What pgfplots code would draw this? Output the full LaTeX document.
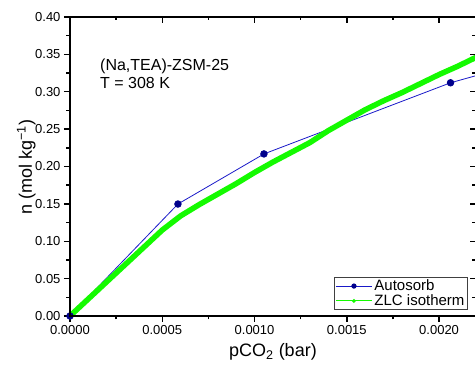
\documentclass[border=0pt]{standalone}
\usepackage{pgfplots}
\pgfplotsset{compat=1.18}
\usepackage{fontspec}
\setmainfont{Liberation Sans}
\definecolor{blueline}{RGB}{25,25,200}
\definecolor{bluemark}{RGB}{0,0,140}
\definecolor{zlcgreen}{RGB}{20,250,0}
\pgfplotsset{
  common/.style={
    at={(70pt,56pt)}, anchor=south west,
    scale only axis, width=406pt, height=299pt,
    xmin=0, xmax=0.0022, ymin=0, ymax=0.40,
    xtick={0,0.0005,0.001,0.0015,0.002},
    ytick={0,0.05,0.10,0.15,0.20,0.25,0.30,0.35,0.40},
    minor x tick num=1, minor y tick num=1,
    scaled x ticks=false, scaled y ticks=false,
    axis line style={line width=2pt, black},
    tick style={line width=1.4pt, black},
    major tick length=6pt, minor tick length=3.5pt,
    /pgf/number format/assume math mode=true,
  }
}
\begin{document}
\begin{tikzpicture}
\begin{axis}[common,
  tick align=outside, xtick pos=left, ytick pos=left,
  xticklabel style={/pgf/number format/.cd, fixed, fixed zerofill, precision=4},
  yticklabel style={/pgf/number format/.cd, fixed, fixed zerofill, precision=2},
  ticklabel style={font=\fontsize{13}{15}\selectfont},
  xlabel={pCO\textsubscript{2} (bar)},
  ylabel={n (mol kg\textsuperscript{−1})},
  label style={font=\fontsize{18}{20}\selectfont},
  xlabel style={at={(axis description cs:0.5,-0.137)}, anchor=base},
  ylabel style={at={(axis description cs:-0.0936,0.497)}, anchor=base},
  legend style={at={(axis description cs:0.980,0.020)}, anchor=south east,
    draw=black!75, line width=0.8pt, font=\fontsize{15}{17}\selectfont,
    inner xsep=1pt, inner ysep=0.5pt, row sep=-1.5pt},
  legend cell align=left,
  legend image code/.code={\draw[mark repeat=2,mark phase=2] plot coordinates {(0pt,0pt) (18pt,0pt) (36pt,0pt)};},
]
\addplot[blueline, line width=0.8pt, mark=*, mark size=3.3pt,
  mark options={fill=bluemark, draw=bluemark}, forget plot] coordinates {
  (0,0) (0.000585,0.1498) (0.001051,0.2168) (0.002062,0.3120) (0.0026,0.349)};
\addplot[zlcgreen, line width=5.5pt, line join=round, line cap=round, forget plot] coordinates {
  (0,0) (0.0001,0.023) (0.0002,0.046) (0.0003,0.069) (0.0004,0.092)
  (0.0005,0.115) (0.0006,0.134) (0.0007,0.149) (0.0008,0.163)
  (0.0009,0.177) (0.0010,0.192) (0.0011,0.206) (0.0012,0.219)
  (0.0013,0.232) (0.0014,0.248) (0.0015,0.262) (0.0016,0.276)
  (0.0017,0.288) (0.0018,0.299) (0.0019,0.311) (0.0020,0.323)
  (0.0021,0.334) (0.0022,0.346)};
\addlegendimage{blueline, line width=0.8pt, mark=*, mark size=2.2pt, mark options={fill=bluemark, draw=bluemark}}
\addlegendentry{Autosorb}
\addlegendimage{zlcgreen, line width=1pt, mark=*, mark size=1.4pt, mark options={fill=zlcgreen}}
\addlegendentry{ZLC isotherm}
\node[anchor=base west, inner sep=0pt, font=\fontsize{16}{18}\selectfont] at (axis cs:0.0001625,0.329) {(Na,TEA)-ZSM-25};
\node[anchor=base west, inner sep=0pt, font=\fontsize{16}{18}\selectfont] at (axis cs:0.0001625,0.3047) {T = 308 K};
\end{axis}
\begin{axis}[common,
  tick align=inside, xtick pos=right, ytick pos=right,
  xticklabels={}, yticklabels={},
]
\end{axis}
\pgfresetboundingbox
\useasboundingbox (0pt,0pt) rectangle (475pt,372pt);
\end{tikzpicture}
\end{document}
